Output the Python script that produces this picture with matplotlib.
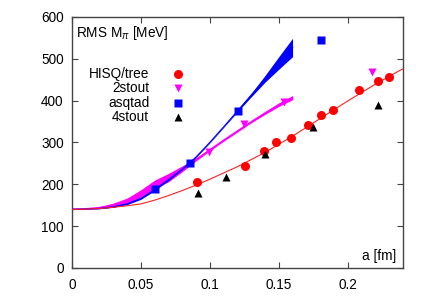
import numpy as np
import matplotlib
matplotlib.use("Agg")
import matplotlib.pyplot as plt

plt.rcParams['font.family'] = ['Liberation Sans', 'DejaVu Sans']
plt.rcParams['mathtext.fontset'] = 'custom'
plt.rcParams['mathtext.rm'] = 'Liberation Sans'
plt.rcParams['mathtext.it'] = 'Liberation Sans:italic'

# data points (a [fm], RMS M_pi [MeV])
hisq_a = [0.0907, 0.1252, 0.1393, 0.1477, 0.1587, 0.1715, 0.1805, 0.1897, 0.2085, 0.2217, 0.2303]
hisq_m = [204.5, 243, 279, 302, 311.5, 341, 366.5, 378, 425.5, 448, 457]
stout2_a = [0.0992, 0.1247, 0.1538, 0.2176]
stout2_m = [278, 345, 397, 469]
asqtad_a = [0.0602, 0.0854, 0.1203, 0.1805]
asqtad_m = [188, 250, 375.5, 545]
stout4_a = [0.0917, 0.1114, 0.1397, 0.1745, 0.2217]
stout4_m = [180, 217, 272.5, 336, 390]

# fit curves
fit_a = [0, 0.01, 0.02, 0.03, 0.04, 0.05, 0.06, 0.07, 0.08,
         0.09, 0.10, 0.11, 0.12, 0.13, 0.14, 0.15, 0.16]
asqtad_fit = [140, 140.5, 142, 146, 153, 166, 187, 211, 236, 265, 300, 337, 375, 413, 452, 490, 527]
asqtad_lo = [140, 140.5, 141.5, 145, 151.5, 164, 185, 209, 235, 264, 299, 336, 373, 409, 444, 475, 505]
asqtad_hi = [140, 140.5, 142.5, 147, 154.5, 168, 189, 213, 237, 266, 301, 338, 377, 417, 460, 505, 549]
stout2_fit = [140, 141, 144, 150, 160, 178, 200, 216, 237, 259, 282, 305, 327, 349, 370, 390, 407]
stout2_err = [0, 0.5, 2.5, 5, 7, 9, 10, 10, 7, 3, 2, 2, 2, 2, 3, 4, 5]
hisq_fit_a = [0, 0.01, 0.02, 0.03, 0.04, 0.05, 0.06, 0.07, 0.08, 0.09,
              0.10, 0.12, 0.14, 0.16, 0.18, 0.20, 0.22, 0.24]
hisq_fit = [140, 140.5, 142, 145, 148.5, 153, 162, 173, 185, 198,
            212, 242, 276, 315, 357, 399, 439, 476]

labels = ["HISQ/tree", "2stout", "asqtad", "4stout"]

fig = plt.figure(figsize=(4.24, 2.97), dpi=100)
ax = fig.add_axes([0.170, 0.098, 0.780, 0.845])

# bands and fit lines
s2c = np.array(stout2_fit)
s2e = np.array(stout2_err)
ax.fill_between(fit_a, s2c - s2e, s2c + s2e, color='#ff00ff', lw=0, zorder=2)
ax.plot(fit_a, s2c, color='#ff00ff', lw=1.2, zorder=2)
ax.fill_between(fit_a, asqtad_lo, asqtad_hi, color='#0000ff', lw=0, zorder=3)
ax.plot(fit_a, asqtad_fit, color='#0000ff', lw=0.9, zorder=3)
ax.plot(hisq_fit_a, hisq_fit, color='#ff2020', lw=0.8, zorder=3)

# data points
ax.plot(hisq_a, hisq_m, 'o', color='#ff0000', ms=6.5, mec='none', zorder=5)
ax.plot(stout2_a, stout2_m, 'v', color='#ff00ff', ms=5.5, mec='none', zorder=5)
ax.plot(asqtad_a, asqtad_m, 's', color='#0000ff', ms=6.3, mec='none', zorder=5)
ax.plot(stout4_a, stout4_m, '^', color='black', ms=5.2, mec='none', zorder=5)

# gnuplot-style key
fs = 9.8
styles = [('o', '#ff0000', 6.5), ('v', '#ff00ff', 5.5), ('s', '#0000ff', 6.3), ('^', 'black', 5.2)]
key_y = [0.773, 0.716, 0.659, 0.601]
for lab, (mk, col, ms), yy in zip(labels, styles, key_y):
    ax.text(0.233, yy, lab, transform=ax.transAxes, ha='right', va='center', fontsize=fs)
    ax.plot([0.3205], [yy], mk, color=col, ms=ms, mec='none', transform=ax.transAxes, clip_on=False)

ax.text(0.012, 0.936, r'RMS M$_\pi$ [MeV]', transform=ax.transAxes, ha='left', va='center', fontsize=fs)
ax.text(0.980, 0.046, 'a [fm]', transform=ax.transAxes, ha='right', va='center', fontsize=fs)

ax.set_xlim(0, 0.24)
ax.set_ylim(0, 600)
ax.set_xticks([0, 0.05, 0.1, 0.15, 0.2])
ax.set_xticklabels(['0', '0.05', '0.1', '0.15', '0.2'])
ax.set_yticks([0, 100, 200, 300, 400, 500, 600])
ax.tick_params(direction='in', top=True, right=True, length=4, width=0.8,
               labelsize=fs, colors='#444444', labelcolor='black')
ax.tick_params(axis='x', pad=7)
ax.tick_params(axis='y', pad=6)
for sp in ax.spines.values():
    sp.set_color('#444444')
    sp.set_linewidth(1.0)

fig.savefig('out.png', dpi=100)
